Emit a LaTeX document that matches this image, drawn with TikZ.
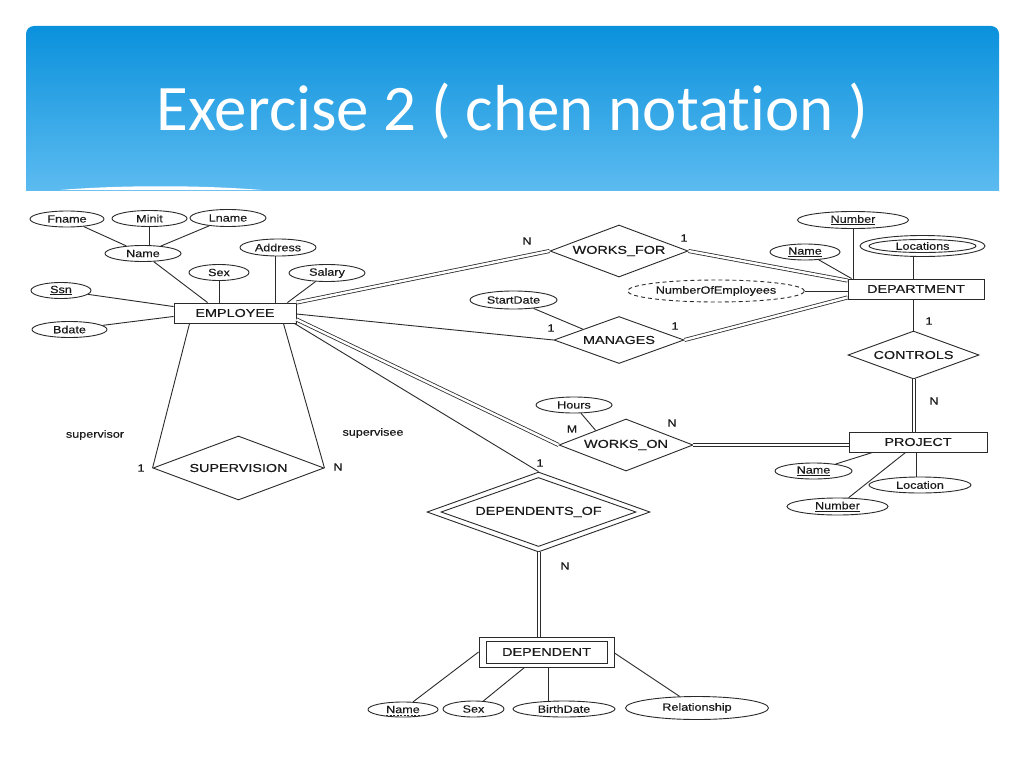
\documentclass[tikz,border=0pt]{standalone}
\usepackage{fontspec}
\setmainfont{Liberation Sans}
\newfontfamily\titlefont{Carlito}[Ligatures={NoCommon}]
\newfontfamily\entfont{Liberation Sans}[FakeStretch=1.25, FakeBold=0.3]
\newfontfamily\attfont{Liberation Sans}[FakeStretch=1.2, FakeBold=0.3]
\usetikzlibrary{shapes.geometric,calc}
\definecolor{lc}{HTML}{2A2A2A}
\definecolor{tc}{HTML}{1A1A1A}
\definecolor{btop}{RGB}{10,145,220}
\definecolor{bbot}{RGB}{92,187,240}
\tikzset{
  ent/.style={draw=lc, line width=0.9pt, rectangle, inner sep=0pt, text=tc,
    font=\entfont\fontsize{11.5}{12}\selectfont},
  rel/.style={draw=lc, line width=0.9pt, diamond, shape aspect=3, inner sep=0pt, text=tc,
    font=\entfont\fontsize{11.5}{12}\selectfont},
  att/.style={draw=lc, line width=0.9pt, ellipse, inner sep=0pt, text=tc,
    font=\attfont\fontsize{10.5}{12}\selectfont},
  lbl/.style={inner sep=0pt, text=tc, font=\attfont\fontsize{10.5}{12}\selectfont},
  conn/.style={draw=lc, line width=0.9pt},
  dconn/.style={draw=lc, line width=0.8pt, double=white, double distance=2.4pt},
}
\begin{document}
\begin{tikzpicture}[x=1pt,y=-1pt]
\useasboundingbox (0,0) rectangle (1024,768);
\fill[white] (0,0) rectangle (1024,768);
% banner
\begin{scope}
  \clip[rounded corners=8pt] (26,26) rectangle (999,215);
  \shade[top color=btop, bottom color=bbot] (26,26) rectangle (999,190);
\end{scope}
\fill[white] (60,190) .. controls (120,185) and (200,185) .. (262,190) -- cycle;
\node[font=\titlefont\fontsize{65}{70}\selectfont, text=white, anchor=base, inner sep=0pt]
  (title) at (512.5,130) {Exercise 2 ( chen notation )};

% entities
\node[ent, minimum width=122pt, minimum height=20pt] (emp) at (235,313) {EMPLOYEE};
\node[ent, minimum width=136pt, minimum height=20pt] (dept) at (916,289) {DEPARTMENT};
\node[ent, minimum width=138pt, minimum height=20pt] (proj) at (918,442) {PROJECT};
\node[ent, minimum width=135pt, minimum height=30pt] (depout) at (546.5,652) {};
\node[ent, minimum width=121pt, minimum height=22pt] (dep) at (546.5,652) {DEPENDENT};

% relationships
\node[rel, minimum width=138pt, minimum height=52pt] (wf) at (619,251) {WORKS\_FOR};
\node[rel, minimum width=130pt, minimum height=47pt] (man) at (619,340) {MANAGES};
\node[rel, minimum width=131pt, minimum height=48pt] (ctrl) at (913.5,355) {CONTROLS};
\node[rel, minimum width=134pt, minimum height=52pt] (won) at (626,445) {WORKS\_ON};
\node[rel, minimum width=171pt, minimum height=64pt] (sup) at (238.5,468) {SUPERVISION};
\node[rel, minimum width=223pt, minimum height=80pt] (depofout) at (538.5,512) {};
\node[rel, minimum width=195pt, minimum height=69pt] (depof) at (538.5,512) {DEPENDENTS\_OF};

% employee attributes
\node[att, minimum width=74pt, minimum height=16pt] (fname) at (67,219) {Fname};
\node[att, minimum width=75pt, minimum height=16pt] (minit) at (149.5,218.5) {Minit};
\node[att, minimum width=76pt, minimum height=17pt] (lname) at (228,218) {Lname};
\node[att, minimum width=76pt, minimum height=16pt] (ename) at (143,253.5) {Name};
\node[att, minimum width=76pt, minimum height=17pt] (address) at (278,247.5) {Address};
\node[att, minimum width=60pt, minimum height=16pt] (sex) at (219,272.5) {Sex};
\node[att, minimum width=76pt, minimum height=17pt] (salary) at (327,273) {Salary};
\node[att, minimum width=60pt, minimum height=16pt] (ssn) at (61,290.5) {\underline{Ssn}};
\node[att, minimum width=75pt, minimum height=16pt] (bdate) at (69.5,329.5) {Bdate};

% department attributes
\node[att, minimum width=111pt, minimum height=17pt] (dnumber) at (853,220) {\underline{Number}};
\node[att, minimum width=70pt, minimum height=16pt] (dname) at (805,252) {\underline{Name}};
\node[att, minimum width=125pt, minimum height=21pt] (locout) at (922.5,246) {};
\node[att, minimum width=107pt, minimum height=13pt] (loc) at (922.5,246) {Locations};
\node[att, dash pattern=on 4pt off 3pt, minimum width=177pt, minimum height=22pt] (numemp) at (716,291) {NumberOfEmployees};
\node[att, minimum width=87pt, minimum height=18pt] (startdate) at (513.5,300) {StartDate};

% works_on / project attributes
\node[att, minimum width=76pt, minimum height=16pt] (hours) at (574,405) {Hours};
\node[att, minimum width=77pt, minimum height=16pt] (pname) at (813.5,471) {\underline{Name}};
\node[att, minimum width=102pt, minimum height=16pt] (ploc) at (920,485) {Location};
\node[att, minimum width=101pt, minimum height=17pt] (pnumber) at (837.5,506.5) {\underline{Number}};

% dependent attributes
\node[att, minimum width=70pt, minimum height=15pt] (dpname) at (403,709.5) {Name};
\node[att, minimum width=61pt, minimum height=16pt] (dsex) at (473.5,709) {Sex};
\node[att, minimum width=102pt, minimum height=16pt] (dbirth) at (564,709) {BirthDate};
\node[att, minimum width=143pt, minimum height=23pt] (drel) at (697,708) {Relationship};
\draw[lc, line width=0.7pt, dash pattern=on 2pt off 1.5pt] ($(dpname.center)+(-17,6)$) -- ($(dpname.center)+(17,6)$);

% employee attribute connectors
\draw[conn] (fname) -- (ename);
\draw[conn] (minit.south) -- (minit.south |- ename.north);
\draw[conn] (lname) -- (ename);
\draw[conn] (ename) -- ($(emp.north west)+(34,0)$);
\draw[conn] (sex.south) -- (sex.south |- emp.north);
\draw[conn] ([xshift=-3pt]address.south) -- ([xshift=-3pt]address.south |- emp.north);
\draw[conn] (salary) -- ($(emp.north east)+(-9,0)$);
\draw[conn] (ssn) -- ($(emp.north west)+(0,4)$);
\draw[conn] (bdate) -- ($(emp.south west)+(0,-7)$);

% employee relationships
\draw[dconn] (emp.north east) -- (wf.west);
\draw[conn] ($(emp.east)+(0,1)$) -- (man.west);
\draw[dconn] ($(emp.south east)+(0,-4)$) -- (won.west);
\draw[conn] ($(emp.south east)+(-2,0)$) -- (depofout.north);
\draw[conn] ($(emp.south west)+(16,0)$) -- (sup.west);
\draw[conn] ($(emp.south east)+(-13,0)$) -- (sup.east);

% department
\draw[dconn] (wf.east) -- ($(dept.north west)+(0,2)$);
\draw[dconn] (man.east) -- ($(dept.south west)+(0,-2)$);
\draw[conn] (startdate) -- ($(man.west)!0.45!(man.north)$);
\draw[conn] (numemp.east) -- (numemp.east -| dept.west);
\draw[conn] (dnumber.south) -- (dnumber.south |- dept.north);
\draw[conn] (dname) -- ($(dept.north west)+(4,0)$);
\draw[conn] ([xshift=-9pt]locout.south) -- ([xshift=-9pt]locout.south |- dept.north);
\draw[conn] (ctrl.north) -- (ctrl.north |- dept.south);
\draw[dconn] ([xshift=0.5pt]ctrl.south) -- ([xshift=0.5pt]ctrl.south |- proj.north);

% project
\draw[dconn] (won.east) -- (won.east -| proj.west);
\draw[conn] (hours) -- ($(won.west)!0.55!(won.north)$);
\draw[conn] (pname) -- ($(proj.south west)+(24,0)$);
\draw[conn] (pnumber) -- ($(proj.south west)+(57,0)$);
\draw[conn] ([xshift=-4pt]ploc.north) -- ([xshift=-4pt]ploc.north |- proj.south);

% dependent
\draw[dconn] ([xshift=0.5pt]depofout.south) -- ([xshift=0.5pt]depofout.south |- depout.north);
\draw[conn] (dpname) -- (depout.west);
\draw[conn] (dsex) -- ($(depout.south west)+(46,0)$);
\draw[conn] ([xshift=-16pt]dbirth.north) -- ([xshift=-16pt]dbirth.north |- depout.south);
\draw[conn] (drel) -- ($(depout.east)+(0,1)$);

% cardinality labels
\node[lbl] (cwf1) at (527,241) {N};
\node[lbl] (cwf2) at (684,238) {1};
\node[lbl] (cm1) at (551,328) {1};
\node[lbl] (cm2) at (675,326) {1};
\node[lbl] (cc1) at (929,321) {1};
\node[lbl] (cc2) at (934,401) {N};
\node[lbl] (cw1) at (572,429) {M};
\node[lbl] (cw2) at (672,423) {N};
\node[lbl] (cd1) at (540,463) {1};
\node[lbl] (cd2) at (565,566) {N};
\node[lbl] (cs1) at (141,468) {1};
\node[lbl] (cs2) at (338,467) {N};
\node[lbl] (rsup) at (95,435) {supervisor};
\node[lbl] (rsee) at (373,433) {supervisee};
\end{tikzpicture}
\end{document}
